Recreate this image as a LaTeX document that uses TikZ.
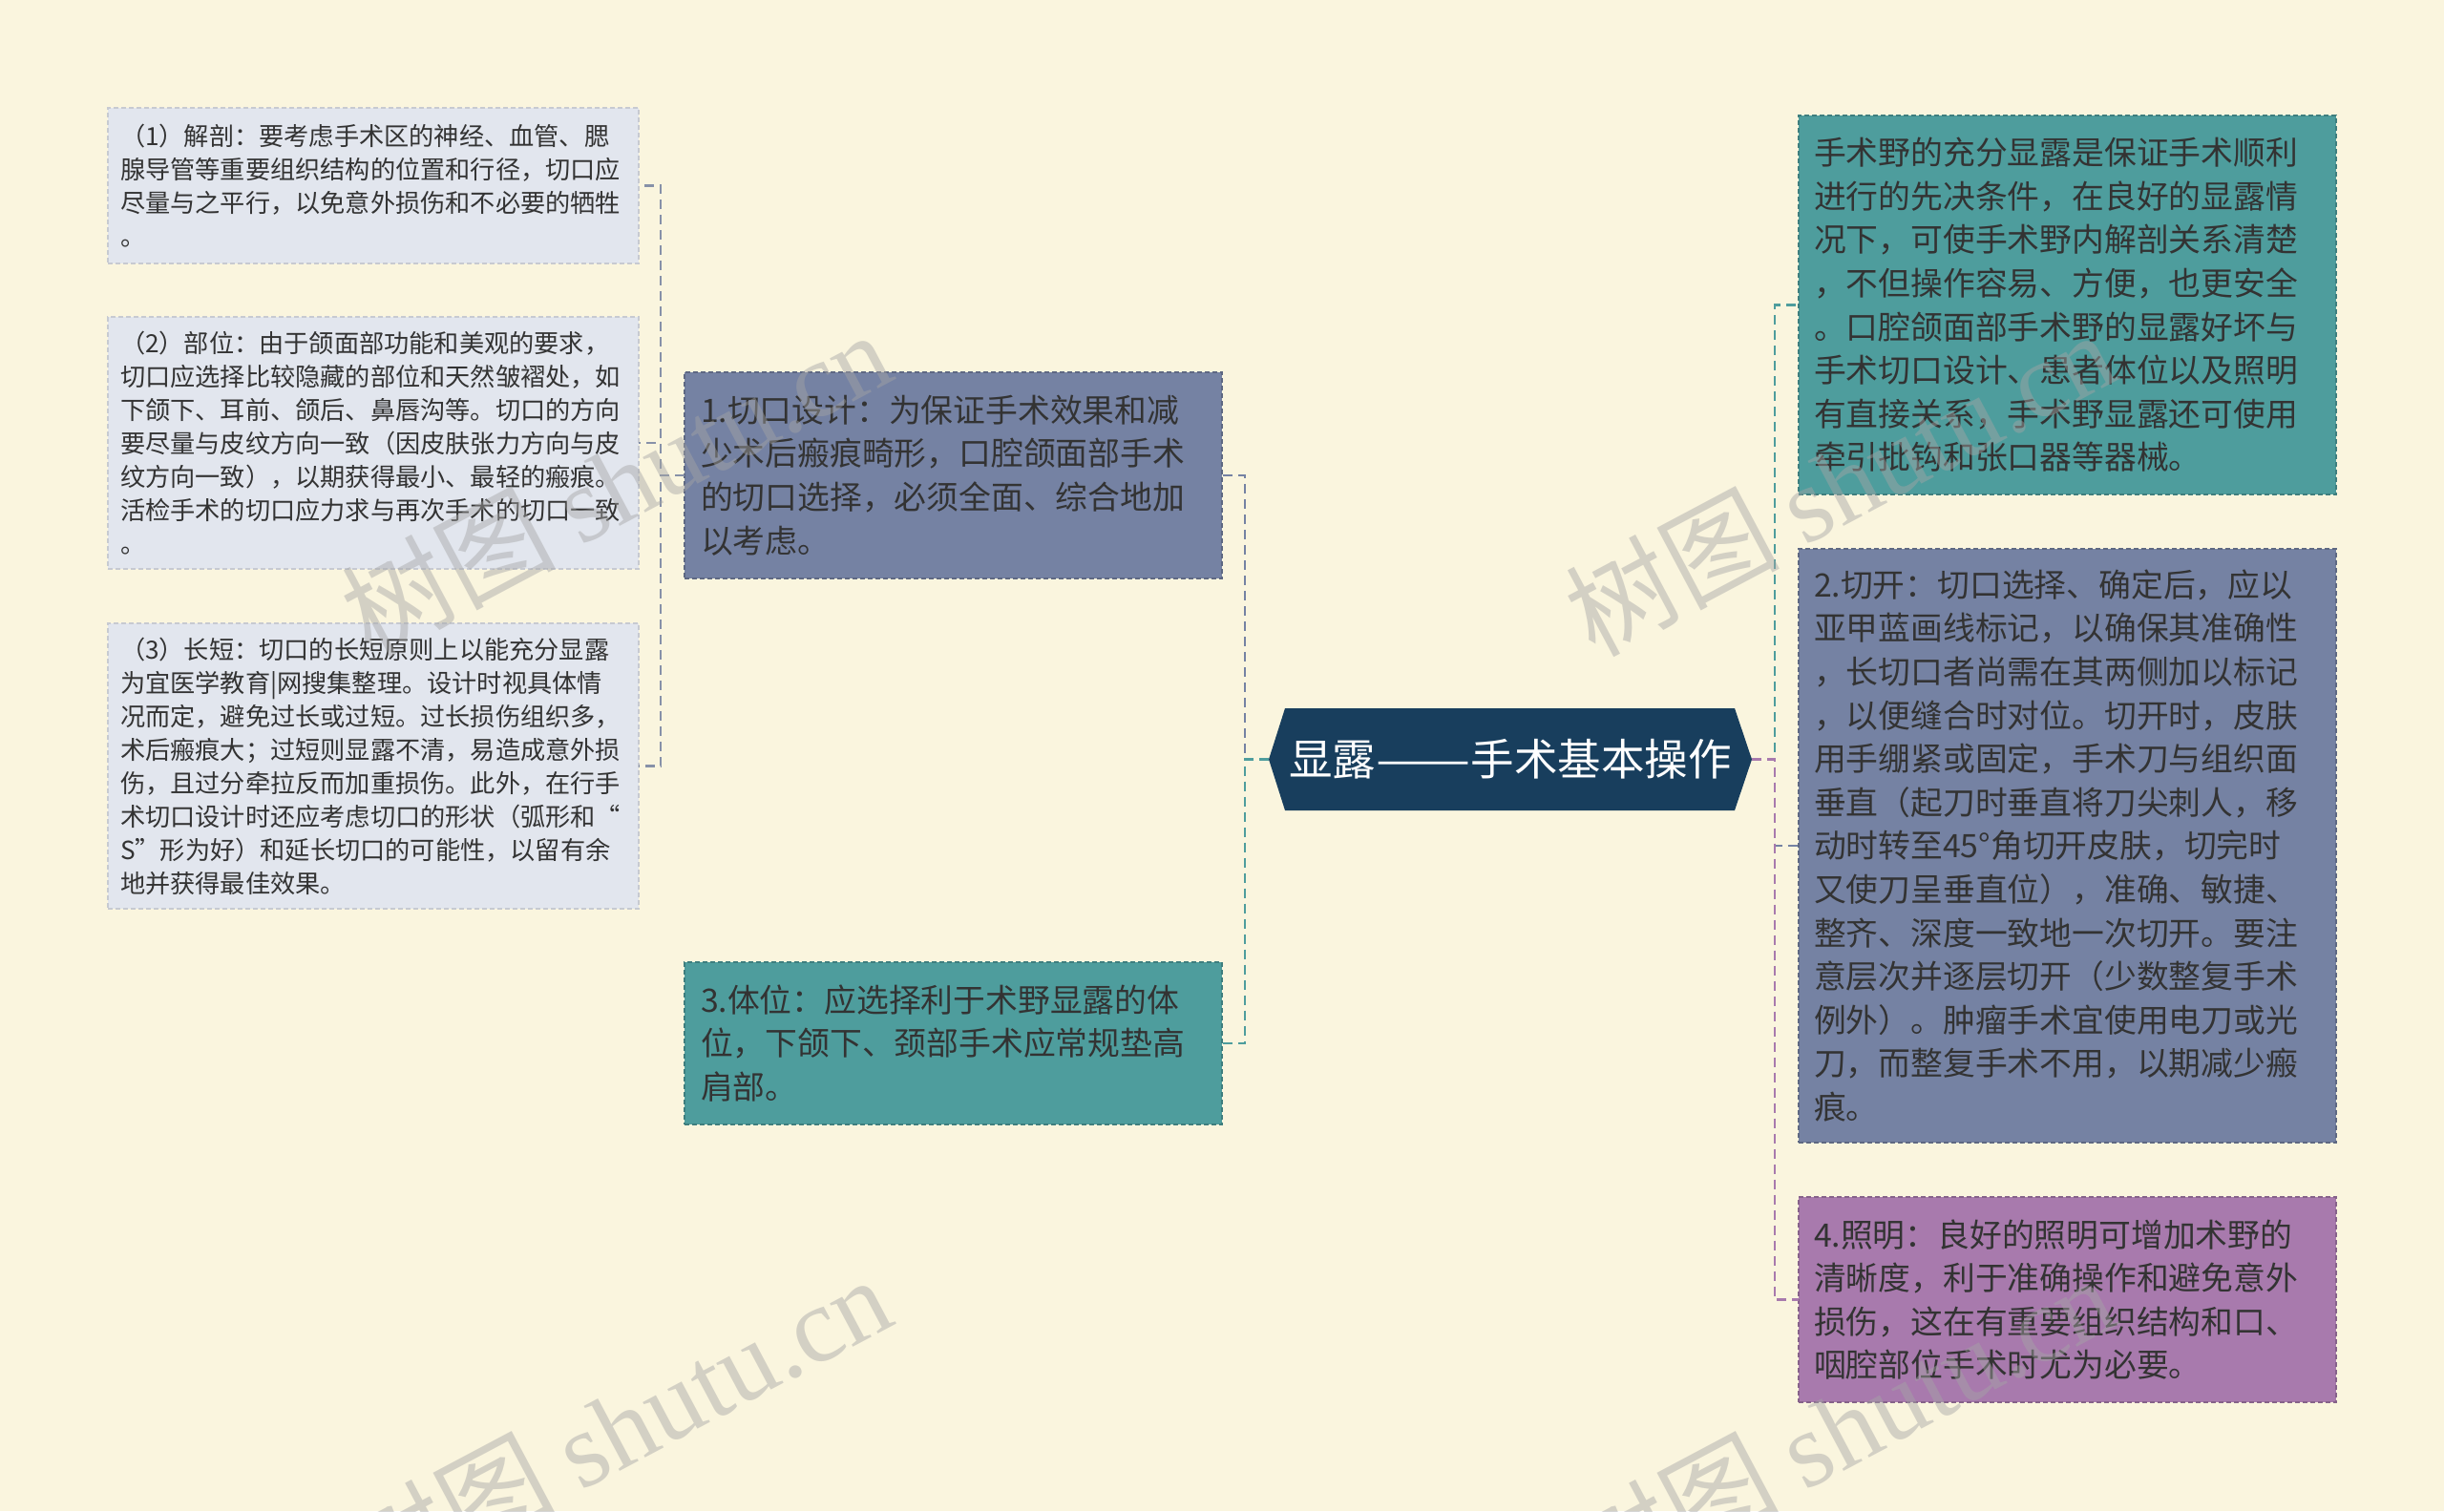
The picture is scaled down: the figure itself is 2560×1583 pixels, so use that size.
\documentclass[tikz,border=0pt]{standalone}
\usepackage{fontspec}
\setmainfont{Noto Sans CJK SC}
\newfontfamily\cjk{Noto Sans CJK SC}
\newfontfamily\wmfont{Liberation Serif}
\definecolor{bg}{RGB}{250,245,222}
\definecolor{lbox}{RGB}{226,230,238}
\definecolor{slate}{RGB}{117,130,163}
\definecolor{teal2}{RGB}{78,157,157}
\definecolor{purp}{RGB}{168,122,173}
\definecolor{navy}{RGB}{24,62,93}
\definecolor{txt}{RGB}{51,51,51}
\definecolor{brk}{RGB}{135,145,168}
\definecolor{wmgray}{RGB}{165,165,165}
\begin{document}
\begin{tikzpicture}[x=1pt,y=-1pt,
  box/.style={anchor=north west, rectangle, inner ysep=0pt, outer sep=0pt,
    align=left, text=txt, line width=1.4pt, dash pattern=on 5pt off 3pt},
  smallbox/.style={box, fill=lbox, draw=lbox!88!black, inner xsep=13pt, text width=530pt,
    minimum width=556pt, font=\fontsize{26.2}{35}\selectfont},
  midbox/.style={box, inner xsep=17pt, text width=529pt, minimum width=563pt,
    font=\fontsize{33.8}{45.6}\selectfont},
  rbox/.style={box, inner xsep=16pt, text width=531pt, minimum width=563pt,
    font=\fontsize{33.8}{45.6}\selectfont},
  conn/.style={line width=2.4pt, dash pattern=on 10pt off 6pt},
  wm/.style={text=wmgray, opacity=0.45, font=\fontsize{112}{112}\selectfont, rotate=28}
]
\clip (0,0) rectangle (2560,1583);
\fill[bg] (0,0) rectangle (2560,1583);

% center hexagon
\fill[navy] (1329,795.5) -- (1346,742) -- (1817,742) -- (1835,795.5) -- (1817,849) -- (1346,849) -- cycle;
\node[text=white, inner sep=0pt, outer sep=0pt, minimum width=506pt, minimum height=107pt,
  font=\fontsize{45.5}{50}\selectfont] (c) at (1582,795.5) {显露\scalebox{1.3}[1]{——}手术基本操作};

% left small boxes
\node[smallbox, minimum height=163pt] (l1) at (113,113) {（1）解剖：要考虑手术区的神经、血管、腮\\腺导管等重要组织结构的位置和行径，切口应\\尽量与之平行，以免意外损伤和不必要的牺牲\\。};
\node[smallbox, minimum height=264pt] (l2) at (113,332) {（2）部位：由于颌面部功能和美观的要求，\\切口应选择比较隐藏的部位和天然皱褶处，如\\下颌下、耳前、颌后、鼻唇沟等。切口的方向\\要尽量与皮纹方向一致（因皮肤张力方向与皮\\纹方向一致），以期获得最小、最轻的瘢痕。\\活检手术的切口应力求与再次手术的切口一致\\。};
\node[smallbox, minimum height=299pt] (l3) at (113,653) {（3）长短：切口的长短原则上以能充分显露\\为宜医学教育|网搜集整理。设计时视具体情\\况而定，避免过长或过短。过长损伤组织多，\\术后瘢痕大；过短则显露不清，易造成意外损\\伤，且过分牵拉反而加重损伤。此外，在行手\\术切口设计时还应考虑切口的形状（弧形和“\\S”形为好）和延长切口的可能性，以留有余\\地并获得最佳效果。};

% middle boxes
\node[midbox, fill=slate, draw=slate!80!black, minimum height=216pt] (m1) at (717,390) {1.切口设计：为保证手术效果和减\\少术后瘢痕畸形，口腔颌面部手术\\的切口选择，必须全面、综合地加\\以考虑。};
\node[midbox, fill=teal2, draw=teal2!80!black, minimum height=170pt] (m3) at (717,1008) {3.体位：应选择利于术野显露的体\\位，下颌下、颈部手术应常规垫高\\肩部。};

% right boxes
\node[rbox, fill=teal2, draw=teal2!80!black, minimum height=397pt] (r1) at (1884,121) {手术野的充分显露是保证手术顺利\\进行的先决条件，在良好的显露情\\况下，可使手术野内解剖关系清楚\\，不但操作容易、方便，也更安全\\。口腔颌面部手术野的显露好坏与\\手术切口设计、患者体位以及照明\\有直接关系，手术野显露还可使用\\牵引批钩和张口器等器械。};
\node[rbox, fill=slate, draw=slate!80!black, minimum height=622pt] (r2) at (1884,575) {2.切开：切口选择、确定后，应以\\亚甲蓝画线标记，以确保其准确性\\，长切口者尚需在其两侧加以标记\\，以便缝合时对位。切开时，皮肤\\用手绷紧或固定，手术刀与组织面\\垂直（起刀时垂直将刀尖刺人，移\\动时转至45°角切开皮肤，切完时\\又使刀呈垂直位），准确、敏捷、\\整齐、深度一致地一次切开。要注\\意层次并逐层切开（少数整复手术\\例外）。肿瘤手术宜使用电刀或光\\刀，而整复手术不用，以期减少瘢\\痕。};
\node[rbox, fill=purp, draw=purp!80!black, minimum height=215pt] (r3) at (1884,1254) {4.照明：良好的照明可增加术野的\\清晰度，利于准确操作和避免意外\\损伤，这在有重要组织结构和口、\\咽腔部位手术时尤为必要。};

% connectors
\draw[conn, brk] (m1.west) -- ++(-25,0) |- (l1.east);
\draw[conn, brk] (m1.west) -- ++(-25,0) |- (l2.east);
\draw[conn, brk] (m1.west) -- ++(-25,0) |- (l3.east);
\draw[conn, slate] (c.west) -- ++(-25,0) |- (m1.east);
\draw[conn, teal2] (c.west) -- ++(-25,0) |- (m3.east);
\draw[conn, teal2] (c.east) -- ++(24,0) |- (r1.west);
\draw[conn, slate] (c.east) -- ++(24,0) |- (r2.west);
\draw[conn, purp] (c.east) -- ++(24,0) |- (r3.west);

% watermarks
\node[wm] (wm1) at (645,505) {\cjk 树图 \wmfont shutu.cn};
\node[wm] (wm2) at (1927,505) {\cjk 树图 \wmfont shutu.cn};
\node[wm] (wm3) at (645,1495) {\cjk 树图 \wmfont shutu.cn};
\node[wm] (wm4) at (1927,1495) {\cjk 树图 \wmfont shutu.cn};
\end{tikzpicture}
\end{document}
